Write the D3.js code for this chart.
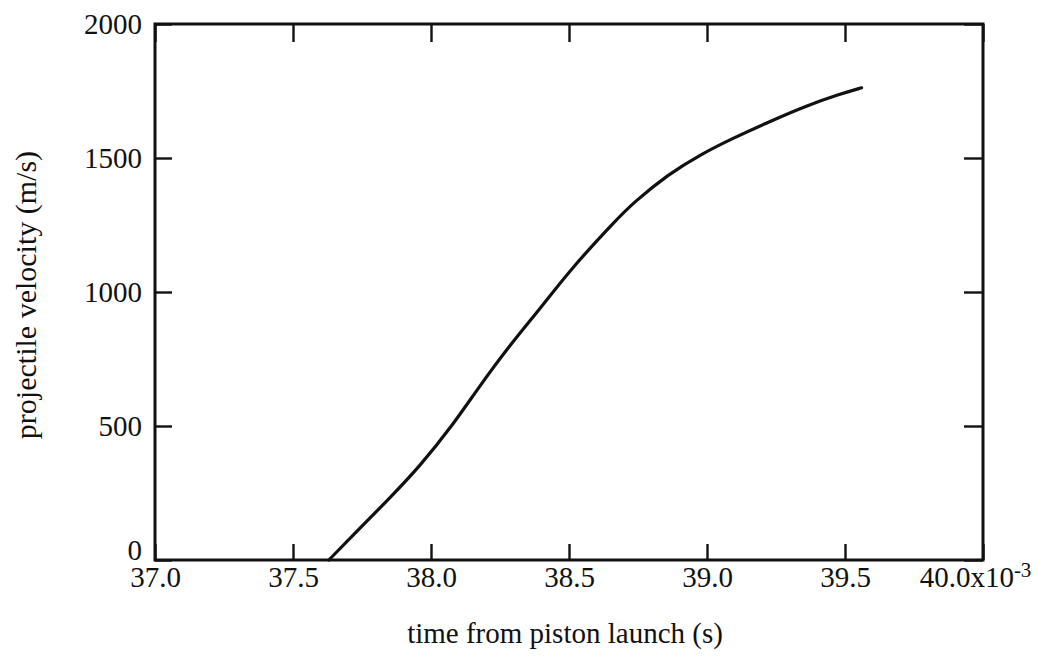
<!DOCTYPE html>
<html>
<head>
<meta charset="utf-8">
<script src="https://cdn.jsdelivr.net/npm/d3@7"></script>
<style>
  html, body { margin: 0; padding: 0; background: #fff; }
  svg { display: block; }
  text { font-family: "Liberation Serif", "Times New Roman", serif; fill: #111; }
</style>
</head>
<body>
<svg id="chart" width="1039" height="660"></svg>
<script>
// Projectile velocity vs. time after piston launch (time in units of 1e-3 s)
const timeMs = [37.63, 37.72, 37.84, 37.96, 38.08, 38.17, 38.28, 38.40, 38.51,
                38.67, 38.73, 38.86, 38.98, 39.09, 39.24, 39.36, 39.48, 39.56];
const velocity = [0, 95, 220, 350, 505, 640, 795, 944, 1090,
                  1268, 1330, 1440, 1515, 1572, 1642, 1695, 1738, 1762];

const xTicks = [37.0, 37.5, 38.0, 38.5, 39.0, 39.5, 40.0];
const yTicks = [0, 500, 1000, 1500, 2000];

const xTitle = "time from piston launch (s)";
const yTitle = "projectile velocity (m/s)";

const W = 1039, H = 660;
const margin = { left: 155, right: 56, top: 24, bottom: 100 };
const innerW = W - margin.left - margin.right;
const innerH = H - margin.top - margin.bottom;

const svg = d3.select("#chart");
const g = svg.append("g").attr("transform", `translate(${margin.left},${margin.top})`);

const x = d3.scaleLinear().domain([37.0, 40.0]).range([0, innerW]);
const y = d3.scaleLinear().domain([0, 2000]).range([innerH, 0]);

const fontSize = 29;

// bottom axis with labels, ticks pointing inward
const xAxis = g.append("g")
  .attr("transform", `translate(0,${innerH})`)
  .call(d3.axisBottom(x).tickValues(xTicks).tickSizeInner(-16).tickSizeOuter(0)
    .tickPadding(6).tickFormat(d3.format(".1f")));

// left axis with labels
const yAxis = g.append("g")
  .call(d3.axisLeft(y).tickValues(yTicks).tickSizeInner(-17).tickSizeOuter(0)
    .tickPadding(13).tickFormat(d3.format("d")));

// top and right axes: inward ticks only
const xTop = g.append("g")
  .call(d3.axisTop(x).tickValues(xTicks).tickSizeInner(-18).tickSizeOuter(0).tickFormat(""));
const yRight = g.append("g")
  .attr("transform", `translate(${innerW},0)`)
  .call(d3.axisRight(y).tickValues(yTicks).tickSizeInner(-19).tickSizeOuter(0).tickFormat(""));

[xAxis, yAxis, xTop, yRight].forEach(a => {
  a.select(".domain").remove();
  a.selectAll(".tick line").attr("stroke", "#111").attr("stroke-width", 2.4);
  a.selectAll(".tick text")
    .attr("fill", "#111")
    .style("font-family", '"Liberation Serif", "Times New Roman", serif')
    .style("font-size", fontSize + "px");
});

// the zero label sits a little above its tick, clear of the x labels
yAxis.selectAll(".tick text").filter(d => d === 0).attr("dy", "-0.02em");

// exponent on the last x label
xAxis.selectAll(".tick text")
  .filter(d => d === 40.0)
  .attr("dx", -8)
  .text(null)
  .call(t => {
    t.append("tspan").text("40.0x10");
    t.append("tspan").attr("dy", "-0.45em").style("font-size", "21px").text("-3");
  });

// plot frame
g.append("rect")
  .attr("x", 0).attr("y", 0)
  .attr("width", innerW).attr("height", innerH)
  .attr("fill", "none")
  .attr("stroke", "#111")
  .attr("stroke-width", 3);

// velocity curve
const pts = timeMs.map((t, i) => [t, velocity[i]]);
g.append("path")
  .datum(pts)
  .attr("fill", "none")
  .attr("stroke", "#111")
  .attr("stroke-width", 3.2)
  .attr("stroke-linecap", "round")
  .attr("d", d3.line().x(d => x(d[0])).y(d => y(d[1])).curve(d3.curveBasis));

// axis titles
svg.append("text")
  .attr("x", 565)
  .attr("y", 643)
  .attr("text-anchor", "middle")
  .style("font-size", fontSize + "px")
  .text(xTitle);

svg.append("text")
  .attr("transform", `translate(36,295) rotate(-90)`)
  .attr("text-anchor", "middle")
  .style("font-size", "30px")
  .text(yTitle);
</script>
</body>
</html>
